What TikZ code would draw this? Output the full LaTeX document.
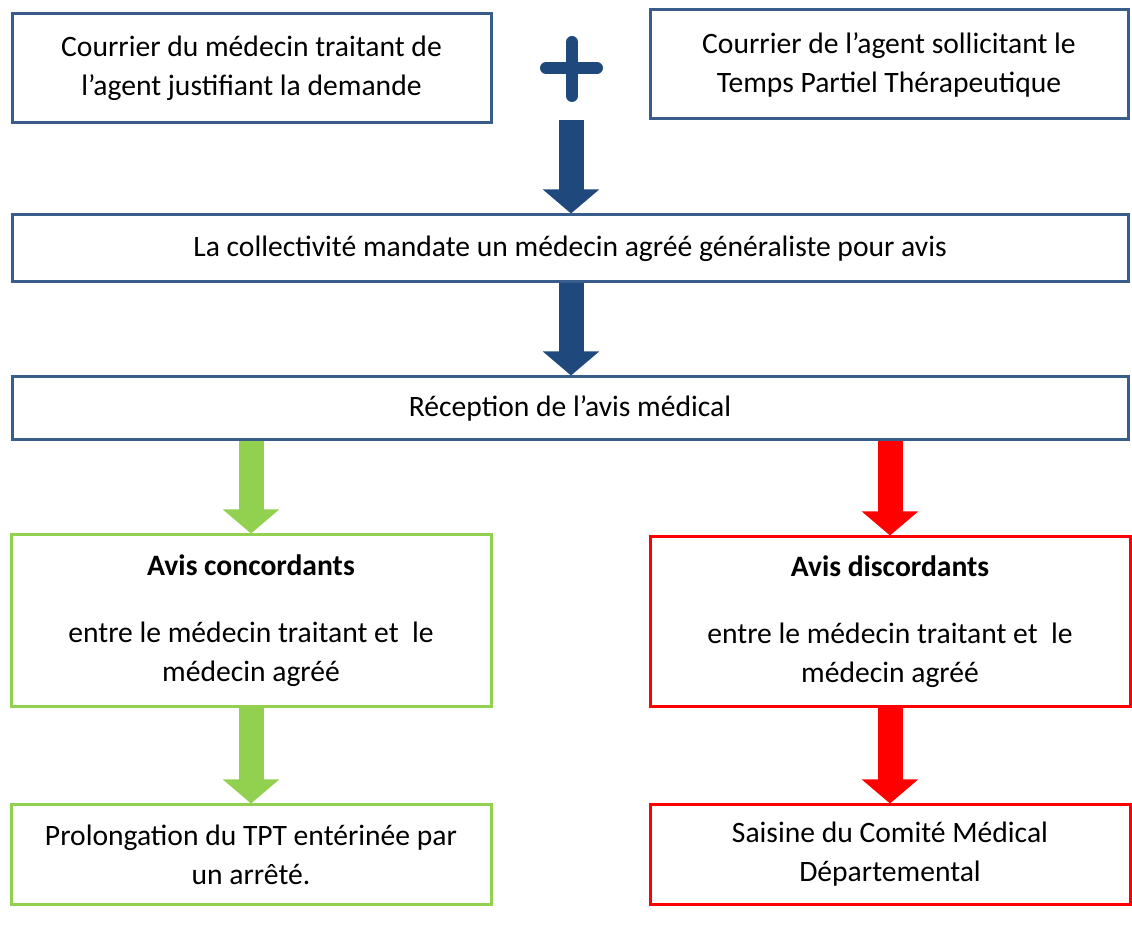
\documentclass[tikz,border=0pt]{standalone}
\usepackage{fontspec}
\setmainfont{Carlito}
\usetikzlibrary{arrows.meta}
\definecolor{boxblue}{HTML}{385D8A}
\definecolor{arrowblue}{HTML}{1F497D}
\definecolor{okgreen}{HTML}{92D050}
\definecolor{nored}{HTML}{FF0000}
\begin{document}
\begin{tikzpicture}[x=0.5pt,y=-0.5pt,
    box/.style={draw=boxblue,line width=1.5pt,inner sep=0pt,align=center,
      font=\fontsize{14.8}{19.5}\selectfont},
    bigarrow/.style={line width=12.5pt,-{Triangle[width=27.5pt,length=12pt]}}]
  \useasboundingbox (0,0) rectangle (1132,925);
  % top row
  \node[box,minimum width=239.5pt,minimum height=54.5pt] (medecin) at (251.5,68.5)
    {Courrier du médecin traitant de\\l’agent justifiant la demande};
  \node[box,minimum width=239pt,minimum height=54.5pt] (agent) at (889,64.5)
    {Courrier de l’agent sollicitant le\\Temps Partiel Thérapeutique};
  \draw[arrowblue,line width=6pt,line cap=round] (572,42) -- (572,96); % plus
  \draw[arrowblue,line width=6pt,line cap=round] (546,68) -- (597,68);
  \coordinate (plusbot) at (571,120);
  % middle row
  \node[box,minimum width=558pt,minimum height=33.5pt] (mandat) at (570,248.5)
    {La collectivité mandate un médecin agréé généraliste pour avis};
  \node[box,minimum width=558pt,minimum height=31.5pt] (reception) at (570,408.5)
    {Réception de l’avis médical};
  \draw[bigarrow,arrowblue] (plusbot) -- (plusbot |- mandat.north);
  \draw[bigarrow,arrowblue] (mandat.south -| plusbot) -- (reception.north -| plusbot);
  % green branch
  \node[box,draw=okgreen,minimum width=240pt,minimum height=86pt] (concord) at (251,621)
    {\textbf{Avis concordants}\\[14pt]entre le médecin traitant et~ le\\médecin agréé};
  \node[box,draw=okgreen,minimum width=240pt,minimum height=49.5pt] (prolong) at (251,854.5)
    {Prolongation du TPT entérinée par\\un arrêté.};
  \draw[bigarrow,okgreen] (reception.south -| concord.north) -- (concord.north);
  \draw[bigarrow,okgreen] (concord.south) -- (prolong.north);
  % red branch
  \node[box,draw=nored,minimum width=240pt,minimum height=85pt] (discord) at (890,622)
    {\textbf{Avis discordants}\\[14pt]entre le médecin traitant et~ le\\médecin agréé};
  \node[box,draw=nored,minimum width=240pt,minimum height=49.5pt] (saisine) at (890,854.5)
    {Saisine du Comité Médical\\Départemental};
  \draw[bigarrow,nored] (reception.south -| discord.north) -- (discord.north);
  \draw[bigarrow,nored] (discord.south) -- (saisine.north);
\end{tikzpicture}
\end{document}
